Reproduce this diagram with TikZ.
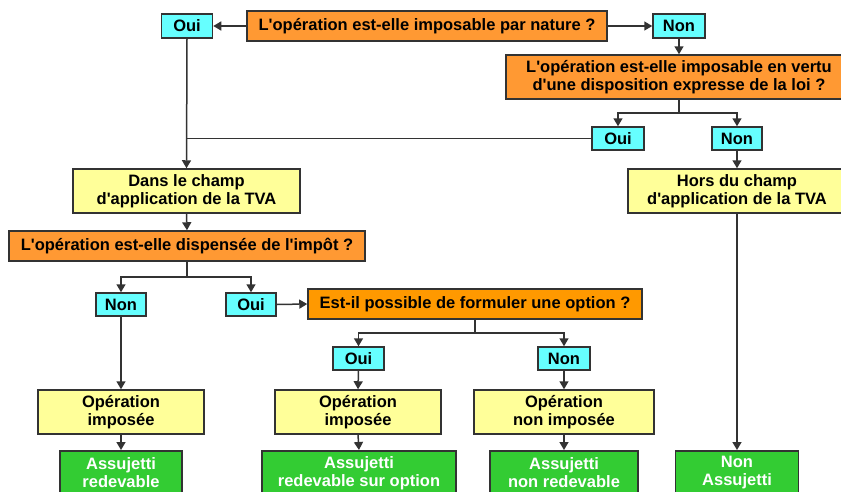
\documentclass[tikz,border=0pt]{standalone}
\usepackage{fontspec}
\setmainfont{Liberation Sans}[Ligatures=TeXOff]
\usetikzlibrary{arrows.meta}
\definecolor{cy}{HTML}{66FFFF}
\definecolor{orq}{HTML}{FF9933}
\definecolor{orr}{HTML}{FF9900}
\definecolor{yl}{HTML}{FFFF99}
\definecolor{gr}{HTML}{33CC33}
\definecolor{bd}{HTML}{333333}
\tikzset{
  base/.style={draw=bd, line width=1.5pt, inner sep=0pt, align=center, font=\fontsize{16.5}{18}\selectfont\bfseries},
  cyanbox/.style={base, fill=cy, minimum height=24pt},
  qbox/.style={base, fill=orq},
  ybox/.style={base, fill=yl, minimum height=44pt},
  gbox/.style={base, fill=gr, text=white, anchor=north, minimum height=44pt},
  conn/.style={draw=bd, line width=1.5pt, -{Triangle[length=8pt,width=9pt]}},
  plain/.style={draw=bd, line width=1.5pt},
}
\begin{document}
\begin{tikzpicture}[x=1pt,y=-1pt]
\useasboundingbox (0,0) rectangle (841,491);
% top row
\node[cyanbox, minimum width=51pt] (oui1) at (187,26) {Oui};
\node[qbox, minimum width=360pt, minimum height=30pt] (q1) at (427,26) {L'opération est-elle imposable par nature ?};
\node[cyanbox, minimum width=52pt] (non1) at (679,26) {Non};
\node[qbox, minimum width=346pt, minimum height=44pt] (q2) at (679,77) {L'opération est-elle imposable en vertu\\d'une disposition expresse de la loi ?};
\node[cyanbox, minimum width=52pt, minimum height=23pt] (oui2) at (618,138.5) {Oui};
\node[cyanbox, minimum width=50pt, minimum height=23pt] (non2) at (737,138.5) {Non};
% yellow middle
\node[ybox, minimum width=227pt] (dans) at (186.5,191) {Dans le champ\\d'application de la TVA};
\node[ybox, minimum width=218pt] (hors) at (737,191) {Hors du champ\\d'application de la TVA};
\node[qbox, minimum width=356pt, minimum height=30pt] (q3) at (187,246) {L'opération est-elle dispensée de l'impôt ?};
\node[cyanbox, minimum width=50pt, minimum height=23pt] (non3) at (121,304.5) {Non};
\node[cyanbox, minimum width=50pt, minimum height=23pt] (oui3) at (251,304.5) {Oui};
\node[qbox, fill=orr, minimum width=334pt, minimum height=30pt] (q4) at (475,304) {Est-il possible de formuler une option ?};
\node[cyanbox, minimum width=51pt, minimum height=23pt] (oui4) at (358.5,358.5) {Oui};
\node[cyanbox, minimum width=52pt, minimum height=23pt] (non4) at (564,358.5) {Non};
\node[ybox, minimum width=166pt] (op1) at (121,412) {Opération\\imposée};
\node[ybox, minimum width=166pt] (op2) at (358,412) {Opération\\imposée};
\node[ybox, minimum width=180pt] (op3) at (564,412) {Opération\\non imposée};
% green
\node[gbox, minimum width=122pt] (g1) at (121,450) {Assujetti\\redevable};
\node[gbox, minimum width=194pt] (g2) at (359,450) {Assujetti\\redevable sur option};
\node[gbox, minimum width=148pt] (g3) at (564,450) {Assujetti\\non redevable};
\node[gbox, minimum width=123pt] (g4) at (737,450) {Non\\Assujetti};
% connectors
\draw[conn] (q1.west) -- (oui1.east);
\draw[conn] (q1.east) -- (non1.west);
\draw[conn] (non1.south) -- (q2.north);
\coordinate (b2) at (679,113);
\draw[plain] (q2.south) -- (b2);
\draw[conn] (b2) -| (oui2.north);
\draw[conn] (b2) -| (non2.north);
\draw[plain] (oui2.west) -- (oui1.south |- oui2.west);
\draw[conn] (oui1.south) -- (dans.north);
\draw[conn] (non2.south) -- (hors.north);
\draw[conn] (dans.south) -- (q3.north);
\coordinate (b3) at (187,277);
\draw[plain] (q3.south) -- (b3);
\draw[conn] (b3) -| (non3.north);
\draw[conn] (b3) -| (oui3.north);
\draw[conn] (oui3.east) -- (q4.west);
\draw[conn] (non3.south) -- (op1.north);
\coordinate (b4) at (475,333);
\draw[plain] (q4.south) -- (b4);
\draw[conn] (b4) -| (oui4.north);
\draw[conn] (b4) -| (non4.north);
\draw[conn] (oui4.south) -- (op2.north);
\draw[conn] (non4.south) -- (op3.north);
\draw[conn] (op1.south) -- (g1.north);
\draw[conn] (op2.south) -- (g2.north);
\draw[conn] (op3.south) -- (g3.north);
\draw[conn] (hors.south) -- (g4.north);
\end{tikzpicture}
\end{document}
